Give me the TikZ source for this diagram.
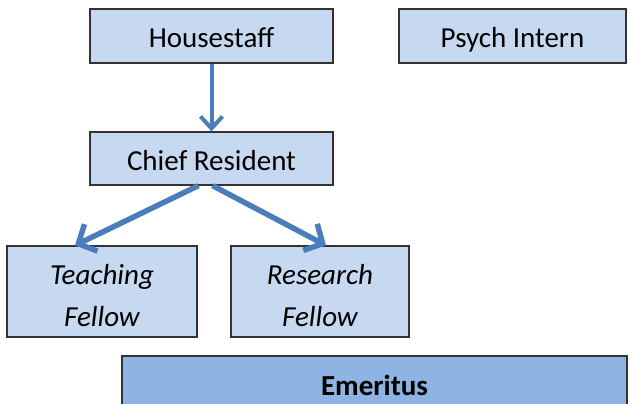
\documentclass[tikz,border=0pt]{standalone}
\usepackage{fontspec}
\setmainfont{Carlito}
\usetikzlibrary{arrows.meta,calc}
\definecolor{boxblue}{HTML}{C6D9F1}
\definecolor{darkbox}{HTML}{8EB4E3}
\definecolor{arrowblue}{HTML}{4A7EBB}

\begin{document}
\begin{tikzpicture}
[x=1pt,y=-1pt,
every node/.style={draw=black!80,line width=1.2pt,fill=boxblue,align=center,
  font=\fontsize{29}{42}\selectfont,inner sep=0pt,text height=24pt,text depth=0pt},
two lines/.style={text height=69pt,text depth=0pt,font=\fontsize{29}{42}\selectfont\itshape},
link/.style={draw=arrowblue,line width=5.5pt,-{Straight Barb[length=14pt,width=30pt]}},
thin link/.style={draw=arrowblue,line width=4pt,-{Straight Barb[length=12pt,width=22pt]}},
]
\clip (0,0) rectangle (633,404);

\node[minimum width=243,minimum height=54] (housestaff) at (211.5,36) {Housestaff};
\node[minimum width=227,minimum height=54] (psych) at (512.5,36) {Psych Intern};
\node[minimum width=243,minimum height=53] (chief) at (211.5,158.5) {Chief Resident};
\node[two lines,minimum width=190,minimum height=91] (teaching) at (102,291.5) {Teaching\\Fellow};
\node[two lines,minimum width=178,minimum height=91] (research) at (320,291.5) {Research\\Fellow};
\node[minimum width=505,minimum height=54,fill=darkbox,font=\fontsize{29}{42}\selectfont\bfseries]
  (emeritus) at (374.5,383) {Emeritus};

\draw[thin link] (housestaff.south) -- (chief.north);
\draw[link] ([xshift=-13pt]chief.south) -- ([xshift=-27pt]teaching.north);
\draw[link] ([xshift=1pt]chief.south) -- ([xshift=6pt]research.north);
\end{tikzpicture}
\end{document}
